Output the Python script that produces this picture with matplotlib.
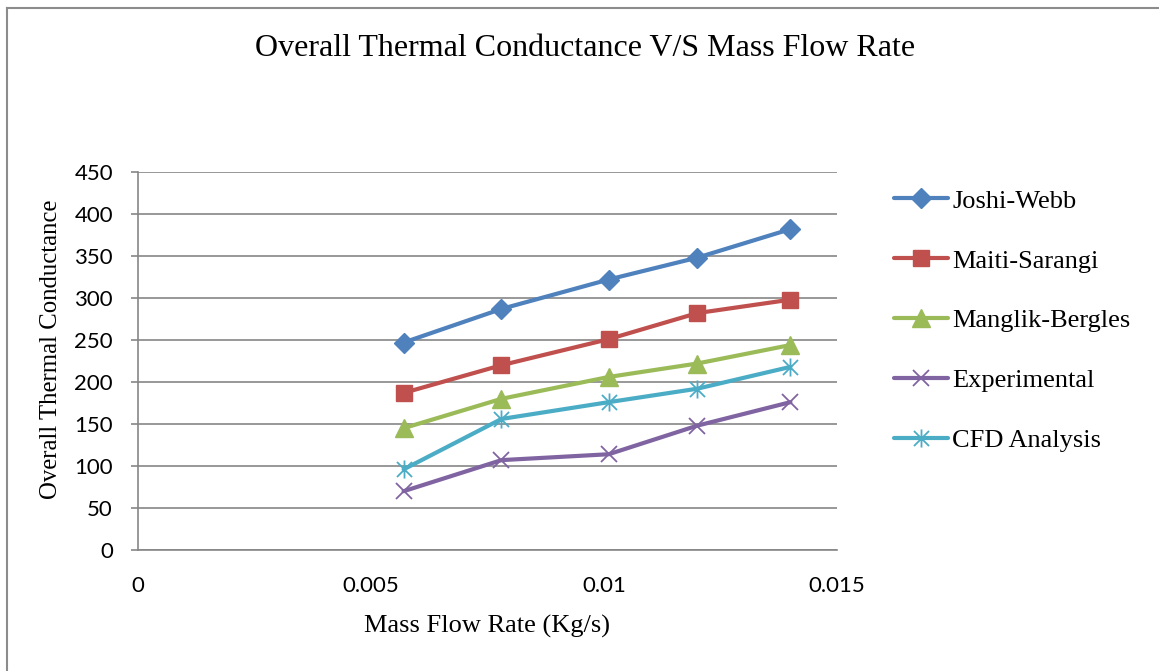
import matplotlib
matplotlib.use("Agg")
import matplotlib.pyplot as plt
from matplotlib.path import Path
from matplotlib.lines import Line2D

mass_flow = [0.0057, 0.0078, 0.0101, 0.0120, 0.0140]
joshi_webb = [247, 287, 322, 348, 382]
maiti_sarangi = [187, 220, 251, 282, 298]
manglik_bergles = [145, 180, 206, 222, 244]
experimental = [70, 107, 114, 148, 176]
cfd_analysis = [96, 156, 176, 192, 218]

labels = ["Joshi-Webb", "Maiti-Sarangi", "Manglik-Bergles", "Experimental", "CFD Analysis"]
colors = ["#4F81BD", "#C0504D", "#9BBB59", "#8064A2", "#4BACC6"]
y_ticks = [0, 50, 100, 150, 200, 250, 300, 350, 400, 450]
x_ticks = [0, 0.005, 0.01, 0.015]
x_ticklabels = ["0", "0.005", "0.01", "0.015"]

star = Path([(-1, -1), (1, 1), (-1, 1), (1, -1), (0, -1.2), (0, 1.2)],
            [Path.MOVETO, Path.LINETO, Path.MOVETO, Path.LINETO, Path.MOVETO, Path.LINETO])

serif = "Liberation Serif"
sans = "Lato"

fig = plt.figure(figsize=(11.59, 6.71), dpi=100)
ax = fig.add_axes([138 / 1159, 1 - 550 / 671, 699 / 1159, 378 / 671])

series = [joshi_webb, maiti_sarangi, manglik_bergles, experimental, cfd_analysis]
styles = [
    dict(marker="D", markersize=10, markerfacecolor=colors[0], markeredgecolor=colors[0]),
    dict(marker="s", markersize=12, markerfacecolor=colors[1], markeredgecolor=colors[1]),
    dict(marker="^", markersize=13, markerfacecolor=colors[2], markeredgecolor=colors[2]),
    dict(marker="x", markersize=12, markeredgewidth=1.3, markeredgecolor=colors[3]),
    dict(marker=star, markersize=13, markeredgewidth=1.3, markerfacecolor="none", markeredgecolor=colors[4]),
]
handles = []
for vals, lab, col, st in zip(series, labels, colors, styles):
    h, = ax.plot(mass_flow, vals, color=col, lw=3.0, label=lab, solid_capstyle="round", **st)
    handles.append(h)

ax.set_xlim(0, 0.015)
ax.set_ylim(0, 450)
ax.set_yticks(y_ticks)
ax.set_xticks(x_ticks)
ax.set_xticklabels(x_ticklabels)
ax.yaxis.grid(True, color="#868686", lw=1.2)
ax.set_axisbelow(True)
for s in ["top", "right"]:
    ax.spines[s].set_visible(False)
for s in ["left", "bottom"]:
    ax.spines[s].set_color("#868686")
    ax.spines[s].set_linewidth(1.2)
ax.tick_params(axis="y", length=5, color="#868686", width=1.2, labelsize=16, pad=13)
ax.tick_params(axis="x", length=0, labelsize=16, pad=19)
for t in ax.get_xticklabels() + ax.get_yticklabels():
    t.set_fontfamily(sans)

ax.set_xlabel("Mass Flow Rate (Kg/s)", fontfamily=serif, fontsize=19, labelpad=13)
ax.set_ylabel("Overall Thermal Conductance", fontfamily=serif, fontsize=17.8)
ax.yaxis.set_label_coords(-0.109, 0.532)

fig.text(585 / 1159, 1 - 48 / 671, "Overall Thermal Conductance V/S Mass Flow Rate",
         fontfamily=serif, fontsize=23, ha="center", va="center")

leg = fig.legend(handles=handles, loc="upper left", bbox_to_anchor=(881 / 1159, 1 - 176 / 671),
                 frameon=False, prop={"family": serif, "size": 19},
                 handlelength=2.05, handletextpad=0.15, labelspacing=1.38, borderpad=0)

fig.add_artist(Line2D([7 / 1159, 7 / 1159], [0, 1 - 8 / 671], transform=fig.transFigure, color="#8c8c8c", lw=1.5))
fig.add_artist(Line2D([7 / 1159, 1], [1 - 8 / 671, 1 - 8 / 671], transform=fig.transFigure, color="#8c8c8c", lw=1.5))

fig.savefig("out.png", dpi=100)
